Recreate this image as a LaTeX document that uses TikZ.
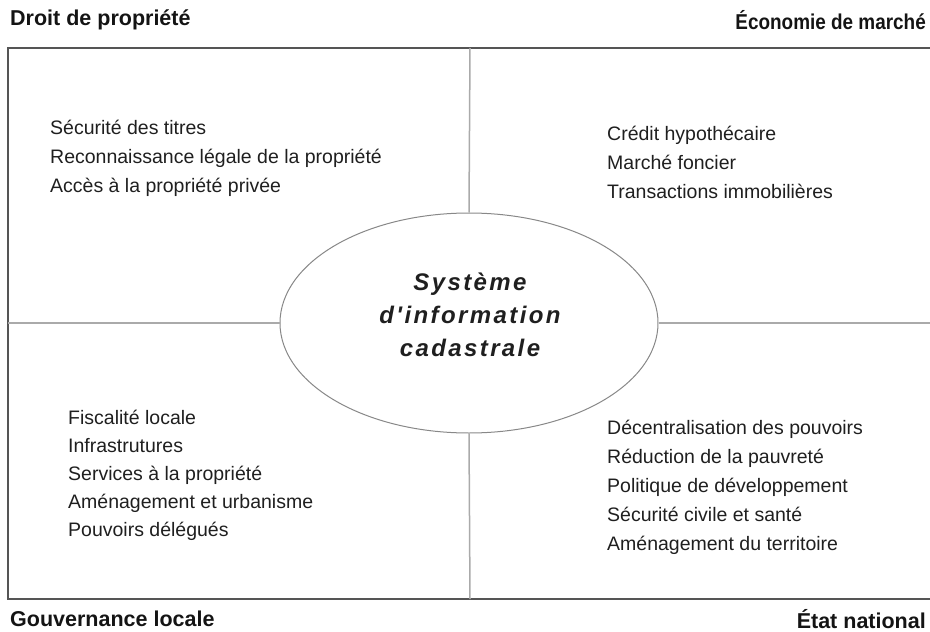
\documentclass[tikz,border=0pt]{standalone}
\usepackage{graphicx}
\usepackage{fontspec}
\setmainfont{Liberation Sans}
\newfontfamily\sysfont[LetterSpace=10]{Liberation Sans}
\usetikzlibrary{shapes.geometric}
\definecolor{framecol}{HTML}{555555}
\definecolor{divcol}{HTML}{AAAAAA}
\definecolor{ellcol}{HTML}{888888}
\tikzset{
  heading/.style={font=\fontsize{21.5}{24}\selectfont\bfseries, inner sep=0pt, text=black!92},
  item/.style={font=\fontsize{19.5}{22}\selectfont, inner sep=0pt, anchor=base west, text=black!88},
  frame/.style={draw=framecol, line width=1.5pt},
  divider/.style={draw=divcol, line width=1.5pt},
}
\begin{document}
\begin{tikzpicture}[x=1pt,y=-1pt]
\useasboundingbox (0,0) rectangle (930,632);
% frame
\coordinate (tl) at (8,48);
\coordinate (tr) at (930,48);
\coordinate (bl) at (8,599);
\coordinate (br) at (930,599);
\draw[frame] (tr) -- (tl) -- (bl) -- (br);
% ellipse
\node[ellipse, draw=ellcol, line width=1pt, minimum width=378, minimum height=220, inner sep=0pt] (sys) at (469,323) {};
\node[font=\fontsize{24}{33}\selectfont\sysfont\bfseries\itshape, align=center, text=black!88] (systxt) at (470,315) {Système\\d'information\\cadastrale};
% dividers
\coordinate (lm) at (8,323);
\coordinate (rm) at (930,323);
\coordinate (tm) at (470,48);
\coordinate (bm) at (470,599);
\draw[divider] (lm) -- (sys.west);
\draw[divider] (sys.east) -- (rm);
\draw[divider] (tm) -- (sys.north);
\draw[divider] (sys.south) -- (bm);
% headings
\node[heading, anchor=west] (h1) at (10,20) {Droit de propriété};
\node[heading, anchor=east] (h2) at (926,20) {\scalebox{0.88}[1]{Économie de marché}};
\node[heading, anchor=west] (h3) at (10,619) {Gouvernance locale};
\node[heading, anchor=east] (h4) at (926,619) {État national};
% top-left
\node[item] (a1) at (50,134) {Sécurité des titres};
\node[item] (a2) at (50,163) {Reconnaissance légale de la propriété};
\node[item] (a3) at (50,192) {Accès à la propriété privée};
% top-right
\node[item] (b1) at (607,140) {Crédit hypothécaire};
\node[item] (b2) at (607,169) {Marché foncier};
\node[item] (b3) at (607,198) {Transactions immobilières};
% bottom-left
\node[item] (c1) at (68,424) {Fiscalité locale};
\node[item] (c2) at (68,452) {Infrastrutures};
\node[item] (c3) at (68,480) {Services à la propriété};
\node[item] (c4) at (68,508) {Aménagement et urbanisme};
\node[item] (c5) at (68,536) {Pouvoirs délégués};
% bottom-right
\node[item] (d1) at (607,434) {Décentralisation des pouvoirs};
\node[item] (d2) at (607,463) {Réduction de la pauvreté};
\node[item] (d3) at (607,492) {Politique de développement};
\node[item] (d4) at (607,521) {Sécurité civile et santé};
\node[item] (d5) at (607,550) {Aménagement du territoire};
\end{tikzpicture}
\end{document}
